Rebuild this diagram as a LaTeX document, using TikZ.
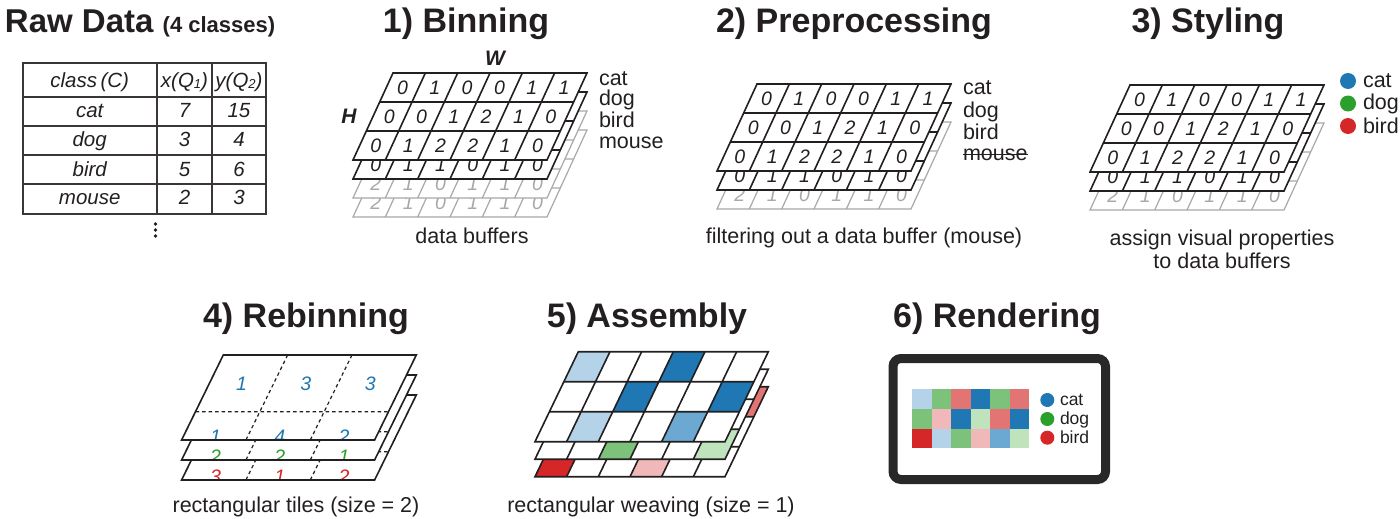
\documentclass[tikz,border=0pt]{standalone}
\usepackage{fontspec}
\setmainfont{Liberation Sans}
\usetikzlibrary{calc}
\definecolor{ink}{HTML}{231F20}
\definecolor{lgray}{HTML}{A8A8A8}
\definecolor{tline}{HTML}{3A3536}
\definecolor{cblue}{HTML}{1F77B4}
\definecolor{cbluemed}{HTML}{6BA8D2}
\definecolor{cbluelight}{HTML}{B4D3E8}
\definecolor{cgreen}{HTML}{2CA02C}
\definecolor{cgreenmed}{HTML}{7CC27A}
\definecolor{cgreenlight}{HTML}{BFE3BC}
\definecolor{cred}{HTML}{D62728}
\definecolor{credmed}{HTML}{E37474}
\definecolor{credlight}{HTML}{F0B8B8}
\definecolor{framec}{HTML}{282828}
\newcommand\fs[1]{\fontsize{#1}{#1}\selectfont}
% binning-type layer: x0, y0 (px, top-left), line style
\newcommand\binlayer[3]{%
 \begin{scope}[shift={(#1pt,-#2pt)},x={(32.33pt,0pt)},y={(-13.33pt,-29pt)}]
  \path[fill=white] (0,0)--(6,0)--(6,3)--(0,3)--cycle;
  \draw[#3] (1,0)--(1,3) (2,0)--(2,3) (3,0)--(3,3) (4,0)--(4,3) (5,0)--(5,3) (0,1)--(6,1) (0,2)--(6,2);
  \draw[#3] (0,0)--(6,0)--(6,3)--(0,3)--cycle;
 \end{scope}}
% digits of one row: x0, y0, row, colour, list, name prefix
\newcommand\bindigits[6]{%
 \begin{scope}[shift={(#1pt,-#2pt)},x={(32.33pt,0pt)},y={(-13.33pt,-29pt)}]
  \foreach \d [count=\c] in {#5} \node[dig,text=#4] (#6-\c) at (\c-0.5,#3-0.5) {\d};
 \end{scope}}
% rebinning layer: y0, colour, bottom tile digits, name prefix
\newcommand\rebinlayer[4]{%
 \begin{scope}[shift={(223.3pt,-#1pt)},x={(32.17pt,0pt)},y={(-13.9pt,-28.33pt)}]
  \path[fill=white] (0,0)--(6,0)--(6,3)--(0,3)--cycle;
  \begin{scope}
   \clip (0,0)--(6,0)--(6,3)--(0,3)--cycle;
   \foreach \d [count=\i] in {#3} \node[dig,text=#2] (#4-\i) at (2*\i-1,2.88) {\d};
  \end{scope}
  \draw[dashl] (2,0)--(2,3) (4,0)--(4,3) (0,2)--(6,2);
  \draw[blackl] (0,0)--(6,0)--(6,3)--(0,3)--cycle;
 \end{scope}}
% assembly layer: y0, coloured cells c/r/colour
\newcommand\asmlayer[2]{%
 \begin{scope}[shift={(578.3pt,-#1pt)},x={(31.67pt,0pt)},y={(-14.44pt,-30pt)}]
  \path[fill=white] (0,0)--(6,0)--(6,3)--(0,3)--cycle;
  \foreach \c/\r/\col in {#2} \fill[\col] (\c-1,\r-1)--(\c,\r-1)--(\c,\r)--(\c-1,\r)--cycle;
  \draw[blackl] (1,0)--(1,3) (2,0)--(2,3) (3,0)--(3,3) (4,0)--(4,3) (5,0)--(5,3) (0,1)--(6,1) (0,2)--(6,2);
  \draw[blackl] (0,0)--(6,0)--(6,3)--(0,3)--cycle;
 \end{scope}}
\begin{document}
\begin{tikzpicture}[x=1pt,y=-1pt,
 every node/.style={inner sep=0pt,outer sep=0pt,text=ink},
 ttl/.style={font=\bfseries\fs{34},anchor=base},
 captxt/.style={font=\fs{21.5},anchor=base},
 lbl/.style={font=\fs{21.5},anchor=base west},
 tabtext/.style={font=\itshape\fs{20.5},anchor=base},
 dig/.style={font=\itshape\fs{19.5}},
 blackl/.style={draw=ink,line width=1.6pt},
 grayl/.style={draw=lgray,line width=1.2pt},
 dashl/.style={draw=ink,line width=1.2pt,dash pattern=on 3.5pt off 3pt},
 tableline/.style={draw=tline,line width=1.8pt},
 disc/.style={circle,minimum size=#1},
]
\path[use as bounding box] (0,0) rectangle (1400,519);

% ---------- Raw data ----------
\node[anchor=base west,font=\bfseries\fs{33}] (rawtitle) at (5,33) {Raw Data {\fs{22}(4 classes)}};
\draw[tableline] (22.7,62.7) rectangle (265.7,214.3);
\draw[tableline] (156.7,62.7)--(156.7,214.3) (212.3,62.7)--(212.3,214.3);
\draw[tableline] (22.7,96.7)--(265.7,96.7) (22.7,126)--(265.7,126) (22.7,155)--(265.7,155) (22.7,184.3)--(265.7,184.3);
\node[tabtext] (h1) at (89.7,87.3) {class\,(C)};
\node[tabtext] (h2) at (184.5,87.3) {x(Q\raisebox{-1.5pt}{\fs{13}1})};
\node[tabtext] (h3) at (239,87.3) {y(Q\raisebox{-1.5pt}{\fs{13}2})};
\foreach \n/\a/\b/\yy [count=\k] in {cat/7/15/117.3, dog/3/4/146.7, bird/5/6/176, mouse/2/3/204.3}{
  \node[tabtext] (tn-\k) at (89.7,\yy) {\n};
  \node[tabtext] (ta-\k) at (184.5,\yy) {\a};
  \node[tabtext] (tb-\k) at (239,\yy) {\b};
}
\foreach \yy [count=\k] in {224,230,236} \node[disc=3.8pt,fill=ink] (vd-\k) at (155.5,\yy) {};

% ---------- 1) Binning ----------
\node[ttl] (t1) at (466,33) {1) Binning};
\binlayer{393}{130}{grayl}
\bindigits{393}{130}{3}{lgray}{2,1,0,1,1,0}{bm}
\binlayer{393}{111}{grayl}
\bindigits{393}{111}{3}{lgray}{2,1,0,1,1,0}{bb}
\binlayer{393}{92}{blackl}
\bindigits{393}{92}{3}{ink}{0,1,1,0,1,0}{bd}
\binlayer{393}{73}{blackl}
\bindigits{393}{73}{1}{ink}{0,1,0,0,1,1}{bc1}
\bindigits{393}{73}{2}{ink}{0,0,1,2,1,0}{bc2}
\bindigits{393}{73}{3}{ink}{0,1,2,2,1,0}{bc3}
\node[font=\bfseries\itshape\fs{21}] (wlab) at (495,58) {W};
\node[font=\bfseries\itshape\fs{21}] (hlab) at (349,116) {H};
\node[lbl] (bl1) at (599,85) {cat};
\node[lbl] (bl2) at (599,106) {dog};
\node[lbl] (bl3) at (599,127) {bird};
\node[lbl] (bl4) at (599,148) {mouse};
\node[captxt] (c1) at (472,243) {data buffers};

% ---------- 2) Preprocessing ----------
\node[ttl] (t2) at (854,33) {2) Preprocessing};
\binlayer{757}{122}{grayl}
\bindigits{757}{122}{3}{lgray}{2,1,0,1,1,0}{pb}
\binlayer{757}{103}{blackl}
\bindigits{757}{103}{3}{ink}{0,1,1,0,1,0}{pd}
\binlayer{757}{84}{blackl}
\bindigits{757}{84}{1}{ink}{0,1,0,0,1,1}{pc1}
\bindigits{757}{84}{2}{ink}{0,0,1,2,1,0}{pc2}
\bindigits{757}{84}{3}{ink}{0,1,2,2,1,0}{pc3}
\node[lbl] (pl1) at (963,95) {cat};
\node[lbl] (pl2) at (963,117) {dog};
\node[lbl] (pl3) at (963,139) {bird};
\node[lbl] (pl4) at (963,160) {mouse};
\draw[ink,line width=1.4pt] ($(pl4.base west)+(0pt,5.5pt)$) -- ($(pl4.base east)+(0pt,5.5pt)$);
\node[captxt] (c2) at (864,243) {filtering out a data buffer (mouse)};

% ---------- 3) Styling ----------
\node[ttl] (t3) at (1208,33) {3) Styling};
\binlayer{1130}{123}{grayl}
\bindigits{1130}{123}{3}{lgray}{2,1,0,1,1,0}{sb}
\binlayer{1130}{104}{blackl}
\bindigits{1130}{104}{3}{ink}{0,1,1,0,1,0}{sd}
\binlayer{1130}{85}{blackl}
\bindigits{1130}{85}{1}{ink}{0,1,0,0,1,1}{sc1}
\bindigits{1130}{85}{2}{ink}{0,0,1,2,1,0}{sc2}
\bindigits{1130}{85}{3}{ink}{0,1,2,2,1,0}{sc3}
\node[disc=16pt,fill=cblue] (sdot1) at (1348,81) {};
\node[disc=16pt,fill=cgreen] (sdot2) at (1348,103.5) {};
\node[disc=16pt,fill=cred] (sdot3) at (1348,126) {};
\node[lbl] (sl1) at (1363,87) {cat};
\node[lbl] (sl2) at (1363,110) {dog};
\node[lbl] (sl3) at (1363,133) {bird};
\node[captxt] (c3a) at (1222,245) {assign visual properties};
\node[captxt] (c3b) at (1222,268) {to data buffers};

% ---------- 4) Rebinning ----------
\node[ttl] (t4) at (306,327) {4) Rebinning};
\rebinlayer{395}{cred}{3,1,2}{rr}
\rebinlayer{375}{cgreen}{2,2,1}{rg}
\rebinlayer{355}{cblue}{1,4,2}{rb}
\begin{scope}[shift={(223.3pt,-355pt)},x={(32.17pt,0pt)},y={(-13.9pt,-28.33pt)}]
 \foreach \d [count=\i] in {1,3,3} \node[dig,text=cblue] (rt-\i) at (2*\i-1,1) {\d};
\end{scope}
\node[captxt] (c4) at (296,512) {rectangular tiles (size = 2)};

% ---------- 5) Assembly ----------
\node[ttl] (t5) at (647,327) {5) Assembly};
\asmlayer{386.7}{3/1/credmed,6/1/credmed,2/2/credlight,5/2/credmed,1/3/cred,4/3/credlight}
\asmlayer{369.2}{2/1/cgreenmed,5/1/cgreenmed,1/2/cgreenmed,4/2/cgreenlight,3/3/cgreenmed,6/3/cgreenlight}
\asmlayer{351.7}{1/1/cbluelight,4/1/cblue,3/2/cblue,6/2/cblue,2/3/cbluelight,5/3/cbluemed}
\node[captxt] (c5) at (651,512) {rectangular weaving (size = 1)};

% ---------- 6) Rendering ----------
\node[ttl] (t6) at (997,327) {6) Rendering};
\node[draw=framec,line width=9pt,rounded corners=8pt,minimum width=212.5pt,minimum height=121pt] (screen) at (999.25,419) {};
\foreach \col [count=\c] in {cbluelight,cgreenmed,credmed,cblue,cgreenmed,credmed}
  \fill[\col] ({912.3+19.5*(\c-1)},389.3) rectangle ++(19.5,19.67);
\foreach \col [count=\c] in {cgreenmed,credlight,cblue,cgreenlight,credmed,cblue}
  \fill[\col] ({912.3+19.5*(\c-1)},408.97) rectangle ++(19.5,19.67);
\foreach \col [count=\c] in {cred,cbluelight,cgreenmed,credlight,cbluemed,cgreenlight}
  \fill[\col] ({912.3+19.5*(\c-1)},428.64) rectangle ++(19.5,19.67);
\node[disc=14pt,fill=cblue] (rdot1) at (1047.3,400) {};
\node[disc=14pt,fill=cgreen] (rdot2) at (1047.3,419) {};
\node[disc=14pt,fill=cred] (rdot3) at (1047.3,437.7) {};
\node[anchor=base west,font=\fs{17.5}] (rl1) at (1060,405.5) {cat};
\node[anchor=base west,font=\fs{17.5}] (rl2) at (1060,424.5) {dog};
\node[anchor=base west,font=\fs{17.5}] (rl3) at (1060,443) {bird};
\end{tikzpicture}
\end{document}
